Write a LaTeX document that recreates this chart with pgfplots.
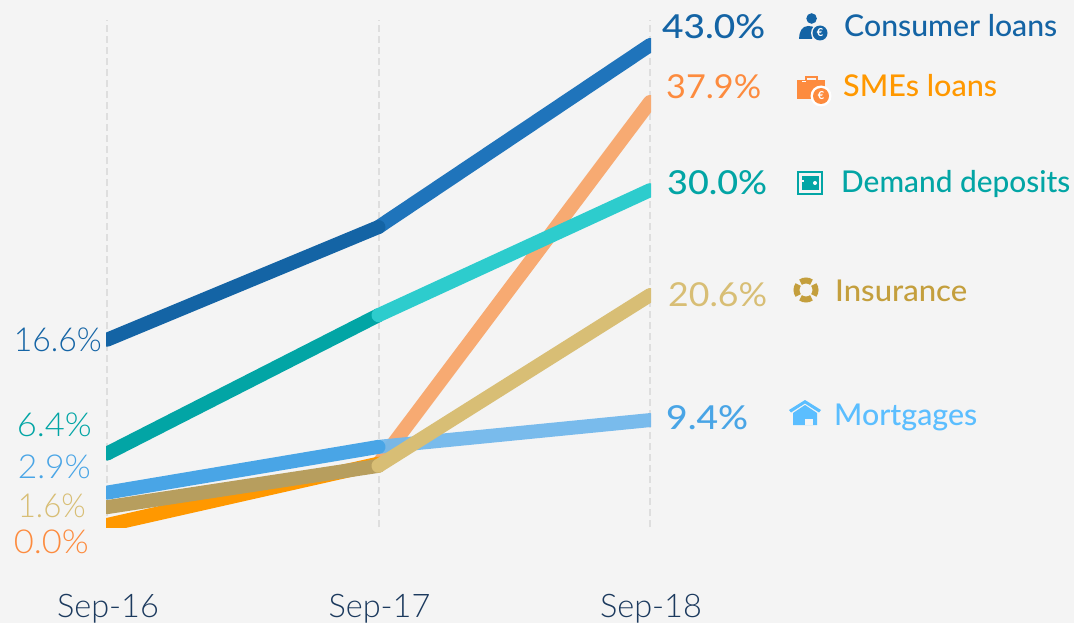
\documentclass[border=0pt]{standalone}
\usepackage{fontspec}
\setmainfont{Lato}
\newfontfamily\lightf{Lato Light}
\newfontfamily\medf{Lato Medium}
\usepackage{pgfplots}
\pgfplotsset{compat=1.18}
\definecolor{bg}{HTML}{F4F4F4}
\definecolor{navy}{HTML}{1C3A5E}
\definecolor{consD}{HTML}{1464A5}
\definecolor{consL}{HTML}{1F74BB}
\definecolor{smeD}{HTML}{FF9800}
\definecolor{smeL}{HTML}{F7AA72}
\definecolor{smeT}{HTML}{FD8B3E}
\definecolor{depD}{HTML}{02A5A5}
\definecolor{depL}{HTML}{2DCCCD}
\definecolor{insD}{HTML}{B79E5E}
\definecolor{insL}{HTML}{D8BE75}
\definecolor{insT}{HTML}{C49F3D}
\definecolor{morD}{HTML}{49A5E6}
\definecolor{morL}{HTML}{73B8EC}
\definecolor{morT}{HTML}{5BBEFF}
\begin{document}
\begin{tikzpicture}[x=1pt,y=1pt]
\useasboundingbox[fill=bg] (0,0) rectangle (1074,-623);
\begin{axis}[
  at={(106pt,-527pt)},anchor=south west,
  width=545pt,height=507pt,scale only axis,
  xmin=-0.0037,xmax=2.0037,ymin=-0.18,ymax=45.25,
  axis line style={draw=none},
  ytick=\empty,
  xtick={0,1,2},xticklabels={Sep-16,Sep-17,Sep-18},
  major tick length=0pt,
  xticklabel style={font=\lightf\fontsize{32.5}{32.5}\selectfont,text=navy,anchor=base,yshift=-90pt,xshift=1pt},
  xmajorgrids,
  grid style={line width=2pt,draw=black!13,dash pattern=on 7pt off 4pt},
]
\addplot[smeL,line width=14pt,line cap=round] coordinates {(1,5.5)(2,37.9)};
\addplot[smeD,line width=14pt,line cap=round] coordinates {(0,0.0)(1,5.5)};
\addplot[consL,line width=14pt,line cap=round] coordinates {(1,26.7)(2,43.0)};
\addplot[consD,line width=14pt,line cap=round] coordinates {(0,16.6)(1,26.7)};
\addplot[depD,line width=14pt,line cap=round] coordinates {(0,6.4)(1,18.8)};
\addplot[depL,line width=14pt,line cap=round] coordinates {(1,18.8)(2,30.0)};
\addplot[morL,line width=14pt,line cap=round,opacity=.95] coordinates {(1,7.0)(2,9.4)};
\addplot[morD,line width=14pt,line cap=round] coordinates {(0,2.9)(1,7.0)};
\addplot[insD,line width=14pt,line cap=round] coordinates {(0,1.6)(1,5.3)};
\addplot[insL,line width=14pt,line cap=round] coordinates {(1,5.3)(2,20.6)};
\end{axis}
% left values: right edge, baseline, colour, width, text
\def\pct#1#2#3#4#5{\node[inner sep=0pt,anchor=base east,text=#3,font=\lightf\fontsize{33}{33}\selectfont] at (#1,-#2) {\resizebox{#4pt}{\height}{#5}};}
\pct{102}{351}{consD}{88}{16.6\%}
\pct{92}{436}{depD}{75}{6.4\%}
\pct{91}{478}{morD}{73}{2.9\%}
\pct{86}{517}{insL}{68}{1.6\%}
\pct{89}{553}{smeT}{75}{0.0\%}
% right values
\def\rp#1#2#3#4#5{\node[inner sep=0pt,anchor=base west,text=#3,font=\fontsize{33}{33}\selectfont] at (#1,-#2) {\resizebox{#4pt}{\height}{#5}};}
\rp{662}{39}{consD}{103}{\medf 43.0\%}
\rp{666}{99}{smeT}{95}{37.9\%}
\rp{667}{194}{depD}{100}{\medf 30.0\%}
\rp{668}{306}{insL}{99}{20.6\%}
\rp{666}{429}{morD}{82}{\medf 9.4\%}
% series names
\def\lb#1#2#3#4#5{\node[inner sep=0pt,anchor=base west,text=#3,font=\medf\fontsize{30}{30}\selectfont] at (#1,-#2) {\resizebox{#4pt}{\height}{#5}};}
\lb{844}{37}{consD}{213}{Consumer loans}
\lb{843}{97}{smeD}{154}{SMEs loans}
\lb{841}{192}{depD}{229}{Demand deposits}
\lb{835}{301}{insT}{132}{Insurance}
\lb{834}{425}{morT}{143}{Mortgages}
% icons
\begin{scope}[yscale=-1]
\fill[consD] (811.6,18.5) circle (5.3);
\fill[consD] (799,39) .. controls (799,32) and (802,26) .. (808,26) .. controls (811,26) and (813,26.5) .. (815,28) -- (812,39) -- cycle;
\fill[bg] (820,33) circle (9);
\fill[consD] (820,33) circle (7.5);
\node[text=white,font=\bfseries\fontsize{11}{11}\selectfont] at (820,33) {€};
\fill[smeT] (797,80) rectangle (825,99);
\draw[smeT,line width=2pt] (806,80) -- (806,77) -- (817,77) -- (817,80);
\fill[white] (806,81.5) rectangle (802,82.5);
\fill[white] (821,96) circle (10.5);
\fill[smeT] (821,96) circle (8);
\node[text=white,font=\bfseries\fontsize{11}{11}\selectfont] at (821,96) {€};
\draw[depD,line width=2pt] (798,172) rectangle (822,194);
\fill[depD] (802,176) rectangle (819,190);
\fill[white] (815,183) circle (2);
\fill[bg] (802,180) rectangle (804,182);
\draw[insT,line width=6pt] (806,290) ++(-35:9.5) arc (-35:35:9.5);
\draw[insT,line width=6pt] (806,290) ++(55:9.5) arc (55:125:9.5);
\draw[insT,line width=6pt] (806,290) ++(145:9.5) arc (145:215:9.5);
\draw[insT,line width=6pt] (806,290) ++(235:9.5) arc (235:305:9.5);
\fill[morT] (789,410) -- (805,400) -- (821,410) -- (819,412.5) -- (805,403.5) -- (791,412.5) -- cycle;
\fill[morT] (793,413) -- (805,405) -- (817,413) -- (817,425) -- (793,425) -- cycle;
\fill[bg] (805,419) rectangle (813,425);
\end{scope}
\end{tikzpicture}
\end{document}
